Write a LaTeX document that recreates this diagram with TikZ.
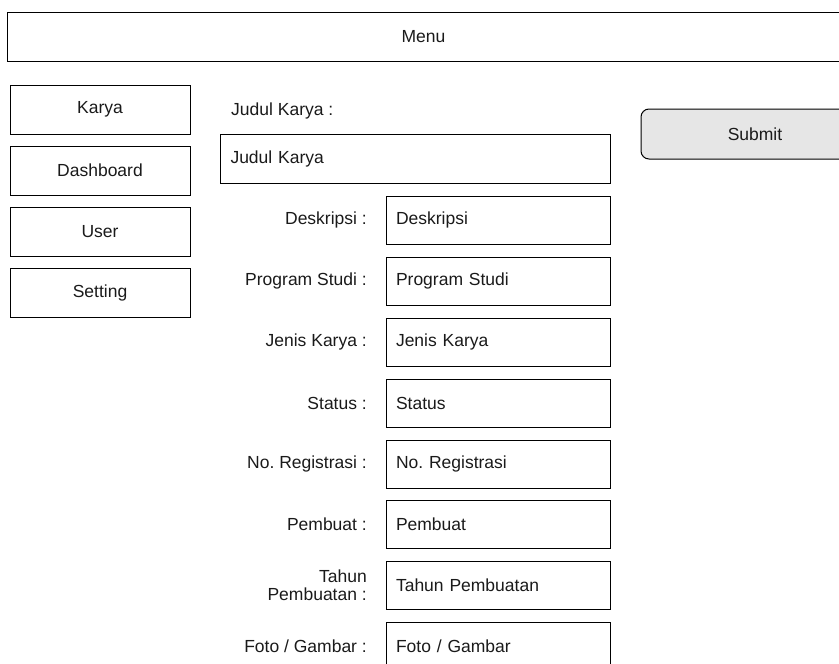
\documentclass[tikz,border=0pt]{standalone}
\usepackage{fontspec}
\setmainfont{Liberation Sans}
\frenchspacing
\definecolor{btngray}{HTML}{E6E6E6}
\definecolor{inkgray}{HTML}{1A1A1A}
\tikzset{
  box/.style={draw=black,line width=1pt,rectangle,inner sep=0pt,text=inkgray},
  navbox/.style={box,minimum width=180pt,minimum height=49pt},
  fieldbox/.style={box,minimum width=224pt,minimum height=48pt,text width=204pt,align=left},
  lbl/.style={inner sep=0pt,text=inkgray,anchor=east,align=right},
}

\begin{document}
\begin{tikzpicture}[x=1pt,y=-1pt,font=\fontsize{17.5}{18}\selectfont]
            \useasboundingbox (0,0) rectangle (839,664);
            \clip (0,0) rectangle (839,664);
            \node[box,minimum width=833pt,minimum height=49pt] (menu) at (423.5,36.5) {Menu};

            \node[navbox] (karya) at (100,109.5) {Karya};
            \node[navbox] (dashboard) at (100,170.5) {Dashboard};
            \node[navbox] (user) at (100,231.5) {User};
            \node[navbox] (setting) at (100,292.5) {Setting};

            \node[box,fill=btngray,rounded corners=8pt,minimum width=228pt,minimum height=50pt] (submit) at (755,134) {Submit};

            \node[inner sep=0pt,anchor=west,text=inkgray] (judullbl) at (231,111) {Judul Karya :};
            \node[box,minimum width=390pt,minimum height=49pt,text width=369pt,align=left] (judul) at (415,158.5) {Judul Karya};

            \node[fieldbox] (deskripsi) at (498,220) {Deskripsi};
            \node[fieldbox] (prodi) at (498,281) {Program Studi};
            \node[fieldbox] (jenis) at (498,342) {Jenis Karya};
            \node[fieldbox] (status) at (498,403) {Status};
            \node[fieldbox] (noreg) at (498,464) {No. Registrasi};
            \node[fieldbox] (pembuat) at (498,524.5) {Pembuat};
            \node[fieldbox] (tahun) at (498,585) {Tahun Pembuatan};
            \node[fieldbox] (foto) at (498,646) {Foto / Gambar};

            \node[lbl] (deskripsilbl) at (367,220) {Deskripsi :};
            \node[lbl] (prodilbl) at (367,281) {Program Studi :};
            \node[lbl] (jenislbl) at (367,342) {Jenis Karya :};
            \node[lbl] (statuslbl) at (367,403) {Status :};
            \node[lbl] (noreglbl) at (367,464) {No. Registrasi :};
            \node[lbl] (pembuatlbl) at (367,524.5) {Pembuat :};
            \node[lbl] (tahunlbl) at (367,585) {Tahun\\Pembuatan :};
            \node[lbl] (fotolbl) at (367,646) {Foto / Gambar :};
        \end{tikzpicture}
\end{document}
